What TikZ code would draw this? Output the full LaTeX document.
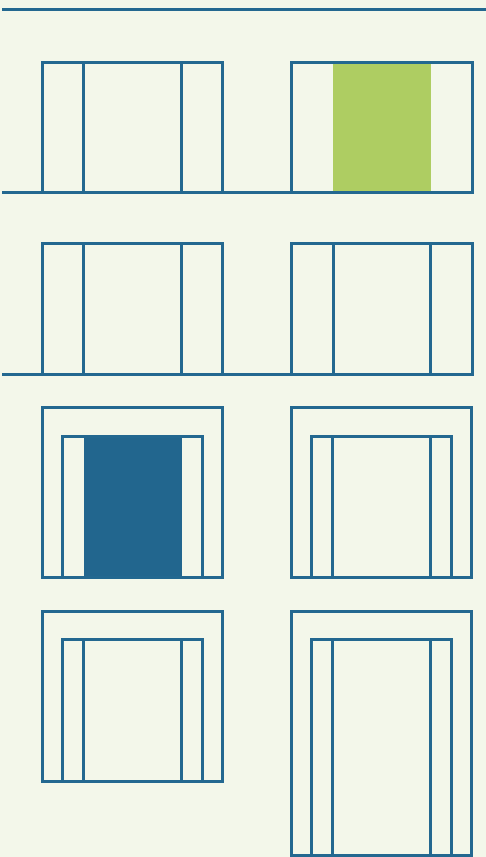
\documentclass[tikz,border=0pt]{standalone}
\definecolor{bg}{HTML}{F3F7EA}
\definecolor{ln}{HTML}{236890}
\definecolor{lime}{HTML}{AECD62}
\definecolor{navy}{HTML}{22668E}
\tikzset{
  frame/.style={draw=ln, line width=3pt},
  rule/.style={draw=ln, line width=3pt},
}
\begin{document}
\begin{tikzpicture}[x=1pt,y=-1pt]
\fill[bg] (0,0) rectangle (486,857);
\useasboundingbox (0,0) rectangle (486,857);
% top line
\draw[rule] (2,9) -- (486,9);
% fills
\fill[lime] (333,63.5) rectangle (430.7,192.5);
\fill[navy] (84,436) rectangle (182,577.3);
% row 1
\draw[rule] (2,192.5) -- (458,192.5);
\draw[frame] (42.3,62.3) rectangle (222.3,192.5);
\draw[frame] (83.7,62.3) -- (83.7,192.5) (181,62.3) -- (181,192.5);
\draw[frame] (83.7,62.3) -- (181,62.3);
\draw[frame] (291.7,62.3) rectangle (472,192.5);
% row 2
\draw[rule] (2,374) -- (472,374);
\draw[frame] (42.3,243.3) rectangle (222.3,374);
\draw[frame] (83.7,243.3) -- (83.7,374) (181,243.3) -- (181,374);
\draw[frame] (291.7,243.3) rectangle (472,374);
\draw[frame] (333,243.3) -- (333,374) (430.3,243.3) -- (430.3,374);
% row 3
\draw[frame] (42,407.7) rectangle (222.3,577.3);
\draw[frame] (62.3,436) rectangle (202.3,577.3);
\draw[frame] (291.7,407.7) rectangle (471.7,577.3);
\draw[frame] (311.7,436) rectangle (451.7,577.3);
\draw[frame] (332.7,436) -- (332.7,577.3) (430.7,436) -- (430.7,577.3);
% row 4
\draw[frame] (42,611) rectangle (222.3,781);
\draw[frame] (62.3,639.3) rectangle (202.3,781);
\draw[frame] (83.7,639.3) -- (83.7,781) (181,639.3) -- (181,781);
\draw[frame] (291.7,611.3) rectangle (471.7,855.7);
\draw[frame] (311.7,639.3) rectangle (451.7,855.7);
\draw[frame] (332.7,639.3) -- (332.7,855.7) (430.7,639.3) -- (430.7,855.7);
\end{tikzpicture}
\end{document}
